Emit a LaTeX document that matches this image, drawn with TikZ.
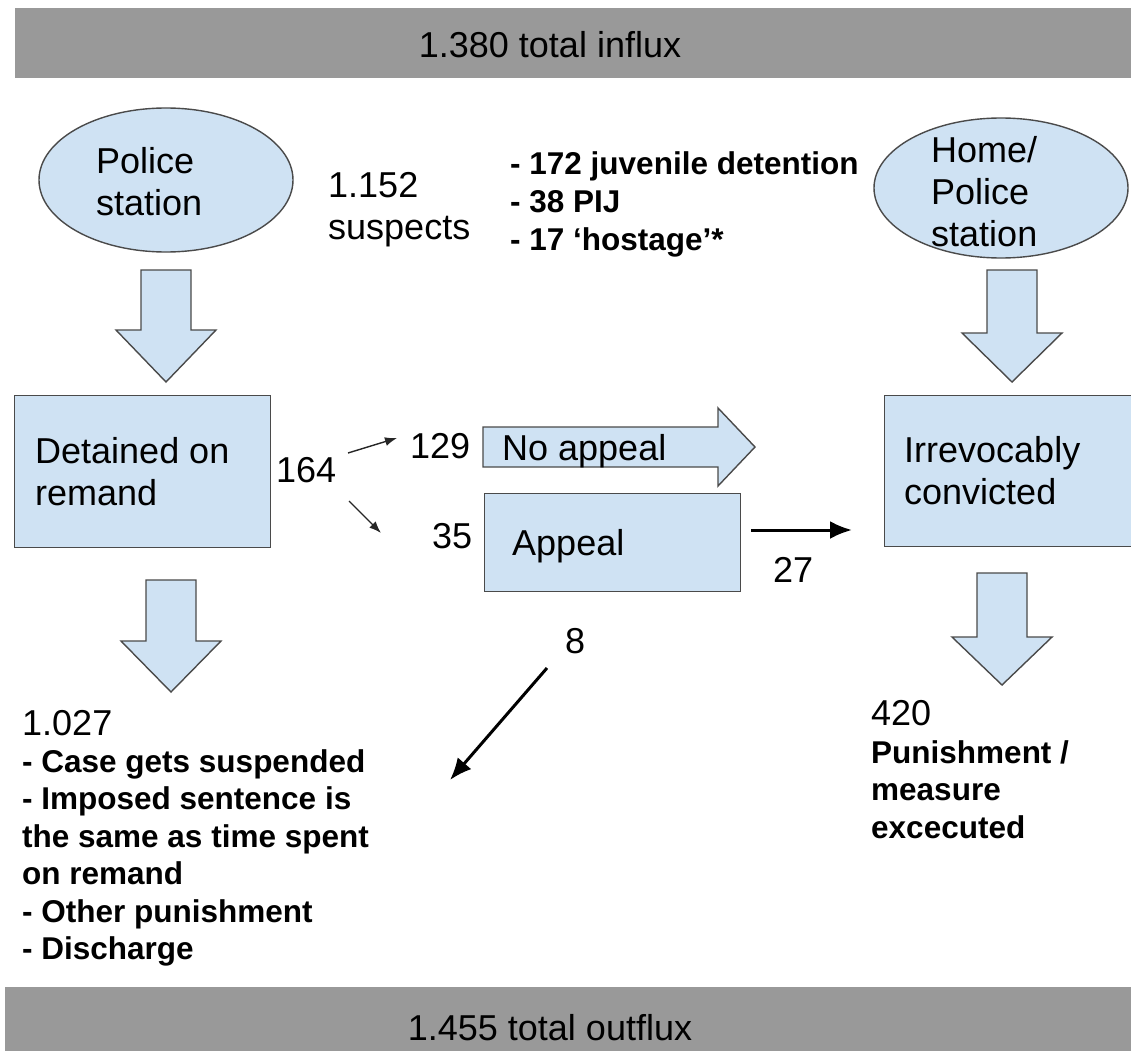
\documentclass[tikz,border=0pt]{standalone}
\usepackage{fontspec}
\setmainfont{Liberation Sans}
\usetikzlibrary{shapes.geometric,arrows.meta,calc}
\definecolor{boxblue}{HTML}{CFE2F3}
\definecolor{edgegray}{HTML}{4A4A4A}
\definecolor{bargray}{HTML}{999999}
\newcommand\stk[1]{\vtop{\halign{##\hfil\cr#1\crcr}}}
\newcommand\regf{\fontsize{36}{42}\selectfont}
\newcommand\boldf{\fontsize{31.5}{37.5}\selectfont\bfseries}
\begin{document}
\begin{tikzpicture}[x=1pt,y=-1pt,
  shapeline/.style={draw=edgegray, fill=boxblue, line width=1.4pt, line join=miter},
  bar/.style={fill=bargray, draw=none, inner sep=0, anchor=north west},
  boxnode/.style={shapeline, rectangle, inner sep=0, anchor=north west},
  ovalnode/.style={shapeline, ellipse, inner sep=0, minimum width=254},
  txt/.style={inner sep=0, anchor=base west, font=\regf},
  btxt/.style={inner sep=0, anchor=base west, font=\boldf},
  thinarrow/.style={draw=black!85, line width=1.4pt, -{Latex[length=12pt,width=9pt]}},
  thickarrow/.style={draw=black, line width=3pt, -{Latex[length=22pt,width=18pt]}},
]
\useasboundingbox (0,0) rectangle (1131,1051);

% bars
\node[bar, minimum width=1116, minimum height=70] (topbar) at (15,8) {};
\node[inner sep=0, font=\regf] (influx) at (550,45) {1.380 total influx};
\node[bar, minimum width=1126, minimum height=64] (botbar) at (5,987) {};
\node[inner sep=0, font=\regf, anchor=base] (outflux) at (550,1040) {1.455 total outflux};

% ellipses
\node[ovalnode, minimum height=144] (police) at (166,180) {};
\node[txt] (policet) at (96,173) {\stk{Police\cr station}};
\node[ovalnode, minimum height=140] (home) at (1001,188) {};
\node[txt] (homet) at (931,163) {\stk{Home/\cr Police\cr station}};

\node[txt] (suspects) at (328,197) {\stk{1.152\cr suspects}};
\node[btxt] (detlist) at (510,175) {\stk{- 172 juvenile detention\cr - 38 PIJ\cr - 17 ‘hostage’*}};

% block arrows (down)
\path[shapeline] (141,270) -- (191,270) -- (191,330) -- (216,330) -- (166,382) -- (116,330) -- (141,330) -- cycle;
\path[shapeline] (987,270) -- (1037,270) -- (1037,333) -- (1062,333) -- (1012,382) -- (962,333) -- (987,333) -- cycle;
\path[shapeline] (146,580) -- (196,580) -- (196,641) -- (221,641) -- (171,692) -- (121,641) -- (146,641) -- cycle;
\path[shapeline] (977,573) -- (1027,573) -- (1027,637) -- (1052,637) -- (1002,685) -- (952,637) -- (977,637) -- cycle;

% boxes
\node[boxnode, minimum width=256, minimum height=152] (detained) at (14,395) {};
\node[txt] (detainedt) at (35,463) {\stk{Detained on\cr remand}};
\node[boxnode, minimum width=256, minimum height=98] (appeal) at (484,493) {};
\node[txt] (appealt) at (512,555) {Appeal};
\node[boxnode, minimum width=260, minimum height=151] (irrev) at (884,395) {};
\node[txt] (irrevt) at (904,462) {\stk{Irrevocably\cr convicted}};

% no appeal block arrow
\path[shapeline] (483,427) -- (718,427) -- (718,408) -- (755,447) -- (718,486) -- (718,467) -- (483,467) -- cycle;
\node[txt] (noappeal) at (502,460) {No appeal};

% numbers
\node[txt] (n164) at (276,482) {164};
\node[txt] (n129) at (410,458) {129};
\node[txt] (n35) at (432,548) {35};
\node[txt] (n27) at (773,582) {27};
\node[txt] (n8) at (565,653) {8};

% small arrows
\coordinate (s1) at (348,453); \coordinate (e1) at (397,438);
\draw[thinarrow] (s1) -- (e1);
\coordinate (s2) at (349,501); \coordinate (e2) at (381,533);
\draw[thinarrow] (s2) -- (e2);

% thick arrows
\coordinate (s27) at (751,530); \coordinate (e27) at (852,530);
\draw[thickarrow] (s27) -- (e27);
\coordinate (s8) at (547,668); \coordinate (e8) at (450,780);
\draw[thickarrow] (s8) -- (e8);

% outcomes
\node[txt] (n1027) at (22,735) {1.027};
\node[btxt] (outlist) at (22,772) {\stk{- Case gets suspended\cr - Imposed sentence is\cr the same as time spent\cr on remand\cr - Other punishment\cr - Discharge}};
\node[txt] (n420) at (871,725) {420};
\node[btxt] (punlist) at (871,763) {\stk{Punishment /\cr measure\cr excecuted}};
\end{tikzpicture}
\end{document}
